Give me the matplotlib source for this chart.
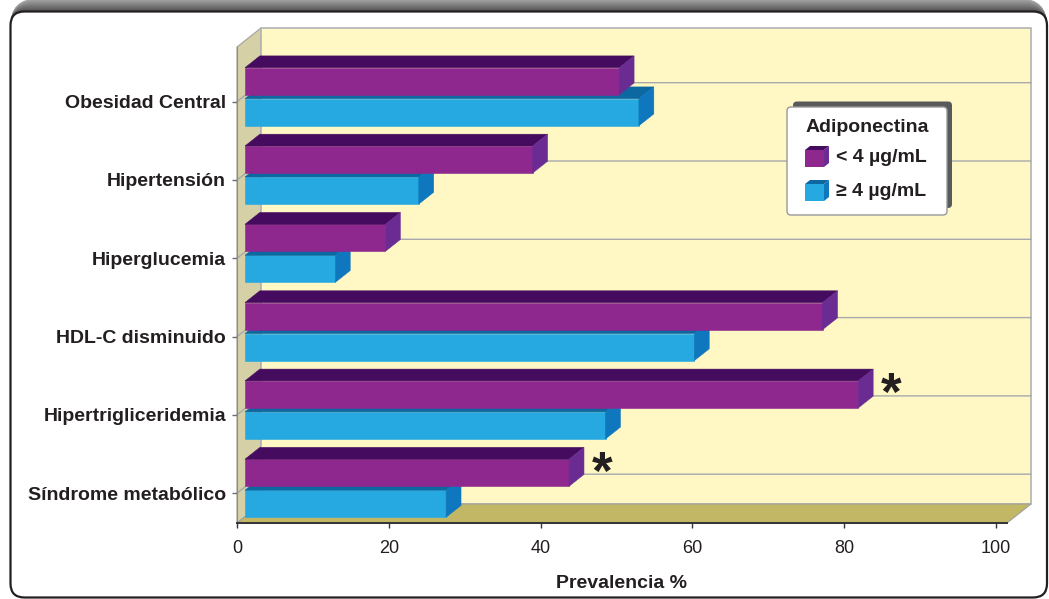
import numpy as np
import matplotlib
matplotlib.use("Agg")
import matplotlib.pyplot as plt
from matplotlib.patches import Polygon, FancyBboxPatch, Rectangle

plt.rcParams['font.family'] = ['Liberation Sans', 'DejaVu Sans']

# datos (prevalencia %)
categories = ["Síndrome metabólico", "Hipertrigliceridemia", "HDL-C disminuido",
              "Hiperglucemia", "Hipertensión", "Obesidad Central"]
adipo_low = [42.7, 80.8, 76.1, 18.5, 37.9, 49.3]    # < 4 µg/mL
adipo_high = [26.5, 47.5, 59.2, 11.9, 22.9, 51.9]   # >= 4 µg/mL
significant = ["Síndrome metabólico", "Hipertrigliceridemia"]
x_ticks = [0, 20, 40, 60, 80, 100]
legend_title = "Adiponectina"
legend_labels = ["< 4 µg/mL", "≥ 4 µg/mL"]

W, H = 1049, 599
PX_UNIT = 7.59      # pixels per % on the front plane
PY_UNIT = 78.3      # pixels per category
DX = 24 / PX_UNIT   # depth shift (full depth) in data units
DY = 19 / PY_UNIT
X_END = 770 / PX_UNIT
Y0 = (493.2 - 523) / PY_UNIT
Y1 = (493.2 - 47) / PY_UNIT

purple = dict(front="#8e288e", top="#450b5e", side="#6a2c92")
blue = dict(front="#25a9e0", top="#0d67a0", side="#0f77bd")
txt_col = "#231f20"


def proj(x, y, z):
    return (x + z * DX, y + z * DY)


def bar3d(ax, y_bot, h, v, cols, zo):
    # front face sits at depth 1/3, y_bot is its position as seen on screen
    x0 = DX / 3
    d = 0.62
    ax.barh(y_bot + h / 2, v, height=h, left=x0,
            color=cols["front"], edgecolor=cols["front"], lw=0.4,
            clip_on=False, zorder=zo)
    yt = y_bot + h
    xe = x0 + v
    top = [(x0, yt), (xe, yt), proj(xe, yt, d), proj(x0, yt, d)]
    side = [(xe, y_bot), (xe, yt), proj(xe, yt, d), proj(xe, y_bot, d)]
    ax.add_patch(Polygon(top, closed=True, fc=cols["top"], ec=cols["top"],
                         lw=0.4, clip_on=False, zorder=zo))
    ax.add_patch(Polygon(side, closed=True, fc=cols["side"], ec=cols["side"],
                         lw=0.4, clip_on=False, zorder=zo))
    return proj(xe, y_bot + h / 2, d)


fig = plt.figure(figsize=(W / 100, H / 100), dpi=100)

# marco exterior con sombra
bg = fig.add_axes([0, 0, 1, 1], zorder=-1)
bg.set_xlim(0, W)
bg.set_ylim(H, 0)
bg.axis("off")
for k in range(13, 0, -1):
    g = 0.33 + 0.33 * (k - 1) / 12
    bg.add_patch(FancyBboxPatch((10.5, 11.5 - k), 1036.5, 586 + k,
                                boxstyle="round,pad=0,rounding_size=%g" % (14 + k),
                                fc=(g, g, g), ec="none"))
bg.add_patch(FancyBboxPatch((10.5, 11.5), 1036.5, 586,
                            boxstyle="round,pad=0,rounding_size=14",
                            fc="white", ec=txt_col, lw=1.6))

ax = fig.add_axes([237 / W, (H - 523) / H, 770 / W, 476 / H], zorder=1)
ax.patch.set_visible(False)
ax.set_xlim(0, X_END)
ax.set_ylim(Y0, Y1)

# paredes
left_wall = [proj(0, Y0, 0), proj(0, Y0, 1), proj(0, Y1, 1), proj(0, Y1, 0)]
ax.add_patch(Polygon(left_wall, closed=True, fc="#d5d0a5", ec="#a0a0a0",
                     lw=0.8, clip_on=False, zorder=0.5))
back_wall = [proj(0, Y0, 1), proj(X_END, Y0, 1), proj(X_END, Y1, 1), proj(0, Y1, 1)]
ax.add_patch(Polygon(back_wall, closed=True, fc="#fff8c4", ec="#b3b3b3",
                     lw=1.2, clip_on=False, zorder=0.5))
floor = [proj(0, Y0, 0), proj(X_END, Y0, 0), proj(X_END, Y0, 1), proj(0, Y0, 1)]
ax.add_patch(Polygon(floor, closed=True, fc="#c1b765", ec="#a0a0a0",
                     lw=0.8, clip_on=False, zorder=0.6))

# lineas de cuadricula
for i in range(len(categories)):
    pts = np.array([proj(0, i, 0), proj(0, i, 1), proj(X_END, i, 1)])
    ax.plot(pts[:, 0], pts[:, 1], color="#a7a9ac", lw=1.0, clip_on=False, zorder=0.7)

# barras
bh = 27 / PY_UNIT
zo = 2.0
for i, cat in enumerate(categories):
    bar3d(ax, i - 24 / PY_UNIT, bh, adipo_high[i], blue, zo)
    zo += 0.01
    tip = bar3d(ax, i + 7 / PY_UNIT, bh, adipo_low[i], purple, zo)
    zo += 0.01
    if cat in significant:
        ax.annotate("*", xy=tip, xytext=(13, -20), textcoords="offset points",
                    ha="center", va="baseline", fontsize=38, fontweight="bold",
                    color=txt_col, annotation_clip=False, zorder=4)

# ejes
for s in ["top", "right"]:
    ax.spines[s].set_visible(False)
ax.spines["left"].set_color("#8c8c8c")
ax.spines["left"].set_linewidth(0.8)
ax.spines["bottom"].set_color("#333333")
ax.spines["bottom"].set_linewidth(1.4)

ax.set_yticks(range(len(categories)))
ax.set_yticklabels(categories, fontsize=14, fontweight="bold", color=txt_col)
ax.tick_params(axis="y", length=3.6, width=1, color="#6d6e71", pad=4.3)
ax.set_xticks(x_ticks)
ax.set_xticklabels([str(t) for t in x_ticks], fontsize=13, color=txt_col)
ax.tick_params(axis="x", length=3.6, width=1, color="#333333", pad=8.5)
ax.set_xlabel("Prevalencia %", fontsize=14, fontweight="bold", color=txt_col,
              labelpad=13)

# leyenda
fg = fig.add_axes([0, 0, 1, 1], zorder=5)
fg.set_xlim(0, W)
fg.set_ylim(H, 0)
fg.axis("off")
fg.add_patch(FancyBboxPatch((793, 101.5), 159, 106.5,
                            boxstyle="round,pad=0,rounding_size=4",
                            fc="#58595b", ec="none"))
fg.add_patch(FancyBboxPatch((787, 107), 160, 108,
                            boxstyle="round,pad=0,rounding_size=4",
                            fc="white", ec="#999999", lw=1))
fg.text(867, 127, legend_title, ha="center", va="center", fontsize=14,
        fontweight="bold", color=txt_col)
for k, (lab, cols) in enumerate(zip(legend_labels, [purple, blue])):
    yb = 167 + k * 34
    fx, fw, fh, d = 805, 19, 17, 5
    fg.add_patch(Rectangle((fx, yb - fh), fw, fh, fc=cols["front"], ec="none"))
    fg.add_patch(Polygon([(fx, yb - fh), (fx + fw, yb - fh), (fx + fw + d, yb - fh - 4),
                          (fx + d, yb - fh - 4)], closed=True, fc=cols["top"], ec="none"))
    fg.add_patch(Polygon([(fx + fw, yb), (fx + fw, yb - fh), (fx + fw + d, yb - fh - 4),
                          (fx + fw + d, yb - 4)], closed=True, fc=cols["side"], ec="none"))
    fg.text(836, yb - 9, lab, ha="left", va="center", fontsize=14,
            fontweight="bold", color=txt_col)

fig.savefig("out.png", dpi=100)
